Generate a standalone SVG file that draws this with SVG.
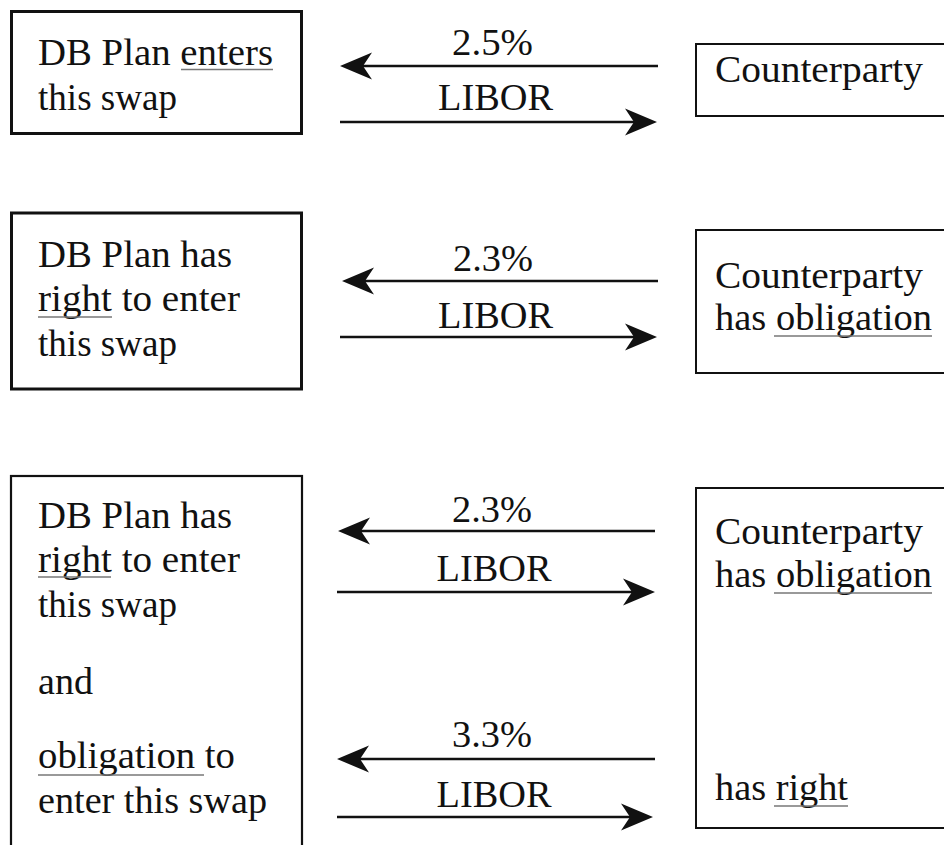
<svg xmlns="http://www.w3.org/2000/svg" width="944" height="845" viewBox="0 0 944 845">
<style>
.t{font-family:"Liberation Serif","DejaVu Serif","Times New Roman",serif;font-size:38px;fill:#111}
.bx{fill:#fff;stroke:#111}
.ul{stroke:#777;stroke-width:1.6}
.ar{stroke:#111;stroke-width:2.6;fill:none;marker-end:url(#ah)}
</style>
<defs>
<marker id="ah" markerUnits="userSpaceOnUse" viewBox="0 0 33 28" markerWidth="33" markerHeight="28" refX="11" refY="14" orient="auto">
<path d="M32,14 L0,0.5 L9,14 L0,27.5 Z" fill="#111"/>
</marker>
</defs>
<rect width="944" height="845" fill="#fff"/>

<g id="plan1">
<rect class="bx" x="11.5" y="11.5" width="290" height="122" stroke-width="3"/>
<text class="t" x="38" y="65" textLength="235" lengthAdjust="spacingAndGlyphs">DB Plan enters</text>
<line class="ul" x1="181" y1="69.5" x2="273" y2="69.5"/>
<text class="t" x="38" y="110" textLength="139" lengthAdjust="spacingAndGlyphs">this swap</text>
</g>

<g id="counterparty1">
<rect class="bx" x="696" y="44" width="260" height="72" stroke-width="2"/>
<text class="t" x="715" y="82" textLength="208" lengthAdjust="spacingAndGlyphs">Counterparty</text>
</g>

<g id="plan2">
<rect class="bx" x="11.5" y="213" width="290" height="176" stroke-width="3"/>
<text class="t" x="38" y="267" textLength="194" lengthAdjust="spacingAndGlyphs">DB Plan has</text>
<text class="t" x="38" y="311" textLength="202" lengthAdjust="spacingAndGlyphs">right to enter</text>
<line class="ul" x1="38" y1="317" x2="112" y2="317"/>
<text class="t" x="38" y="356" textLength="139" lengthAdjust="spacingAndGlyphs">this swap</text>
</g>

<g id="counterparty2">
<rect class="bx" x="696" y="230" width="260" height="143" stroke-width="2"/>
<text class="t" x="715" y="288" textLength="208" lengthAdjust="spacingAndGlyphs">Counterparty</text>
<text class="t" x="715" y="330" textLength="217" lengthAdjust="spacingAndGlyphs">has obligation</text>
<line class="ul" x1="774" y1="336" x2="932" y2="336"/>
</g>

<g id="plan3">
<rect class="bx" x="11" y="476" width="291" height="400" stroke-width="2.2"/>
<text class="t" x="38" y="528" textLength="194" lengthAdjust="spacingAndGlyphs">DB Plan has</text>
<text class="t" x="38" y="572" textLength="202" lengthAdjust="spacingAndGlyphs">right to enter</text>
<line class="ul" x1="38" y1="577" x2="111" y2="577"/>
<text class="t" x="38" y="617" textLength="139" lengthAdjust="spacingAndGlyphs">this swap</text>
<text class="t" x="38" y="694" textLength="55" lengthAdjust="spacingAndGlyphs">and</text>
<text class="t" x="38" y="768" textLength="197" lengthAdjust="spacingAndGlyphs">obligation to</text>
<line class="ul" x1="38" y1="775" x2="204" y2="775"/>
<text class="t" x="38" y="813" textLength="229" lengthAdjust="spacingAndGlyphs">enter this swap</text>
</g>

<g id="counterparty3">
<rect class="bx" x="696" y="488" width="260" height="340" stroke-width="2"/>
<text class="t" x="715" y="544" textLength="208" lengthAdjust="spacingAndGlyphs">Counterparty</text>
<text class="t" x="715" y="587" textLength="217" lengthAdjust="spacingAndGlyphs">has obligation</text>
<line class="ul" x1="774" y1="593" x2="932" y2="593"/>
<text class="t" x="715" y="800" textLength="133" lengthAdjust="spacingAndGlyphs">has right</text>
<line class="ul" x1="774" y1="806" x2="848" y2="806"/>
</g>

<g id="connectors">
<line class="ar" x1="658" y1="66" x2="361" y2="66"/>
<text class="t" x="492.5" y="55" text-anchor="middle" textLength="81" lengthAdjust="spacingAndGlyphs">2.5%</text>
<text class="t" x="495.5" y="110" text-anchor="middle" textLength="115" lengthAdjust="spacingAndGlyphs">LIBOR</text>
<line class="ar" x1="340" y1="122" x2="636" y2="122"/>

<line class="ar" x1="658" y1="281" x2="363" y2="281"/>
<text class="t" x="493" y="271" text-anchor="middle" textLength="80" lengthAdjust="spacingAndGlyphs">2.3%</text>
<text class="t" x="495.5" y="328" text-anchor="middle" textLength="115" lengthAdjust="spacingAndGlyphs">LIBOR</text>
<line class="ar" x1="340" y1="337" x2="636" y2="337"/>

<line class="ar" x1="655" y1="531" x2="359" y2="531"/>
<text class="t" x="492" y="522" text-anchor="middle" textLength="80" lengthAdjust="spacingAndGlyphs">2.3%</text>
<text class="t" x="494" y="581" text-anchor="middle" textLength="115" lengthAdjust="spacingAndGlyphs">LIBOR</text>
<line class="ar" x1="337" y1="592" x2="634" y2="592"/>

<line class="ar" x1="655" y1="759" x2="358" y2="759"/>
<text class="t" x="492" y="747" text-anchor="middle" textLength="80" lengthAdjust="spacingAndGlyphs">3.3%</text>
<text class="t" x="494" y="807" text-anchor="middle" textLength="115" lengthAdjust="spacingAndGlyphs">LIBOR</text>
<line class="ar" x1="337" y1="817" x2="632" y2="817"/>
</g>
</svg>
